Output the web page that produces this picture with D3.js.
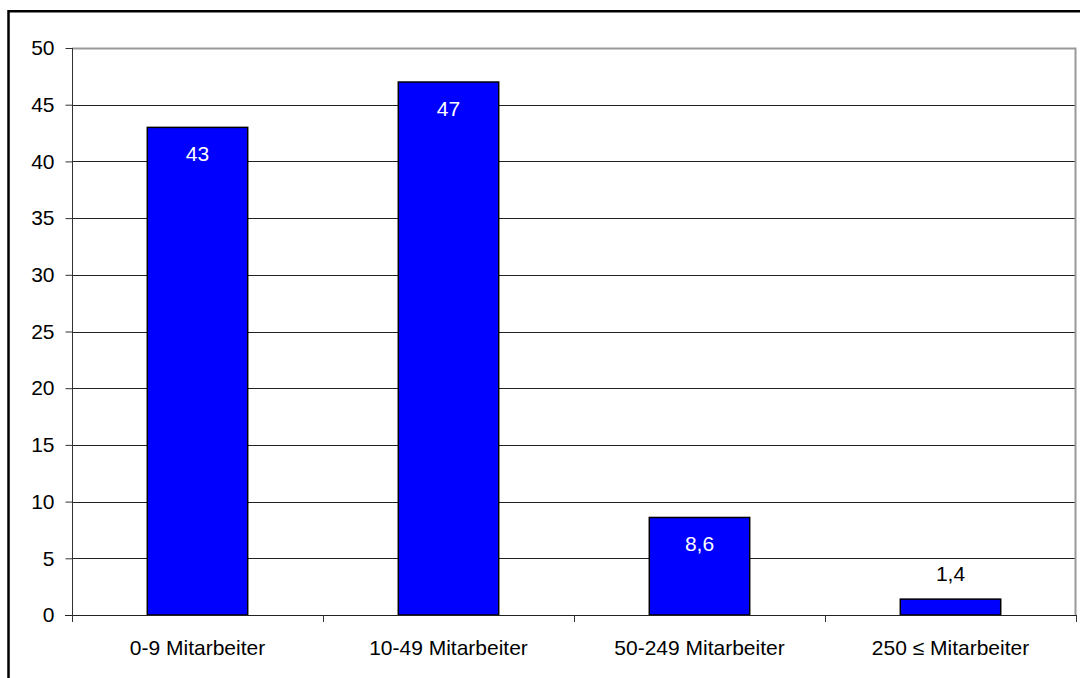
<!DOCTYPE html>
<html><head><meta charset="utf-8">
<script src="https://cdn.jsdelivr.net/npm/d3@7"></script>
<style>html,body{margin:0;padding:0;background:#fff;}svg{display:block;font-family:"Liberation Sans",Arial,sans-serif;}</style>
</head><body>
<script>
const categories = ["0-9 Mitarbeiter", "10-49 Mitarbeiter", "50-249 Mitarbeiter", "250 ≤ Mitarbeiter"];
const values = [43, 47, 8.6, 1.4];
const valueLabels = ["43", "47", "8,6", "1,4"];
const yTicks = [0, 5, 10, 15, 20, 25, 30, 35, 40, 45, 50];

(function () {
const W = 1080, H = 678;
const pL = 72, pR = 1076, pT = 48, pB = 615;
const fs = 21;

const svg = d3.select("body").append("svg").attr("width", W).attr("height", H);

// outer border
svg.append("rect").attr("x", 8.5).attr("y", 11.25).attr("width", W + 20).attr("height", H + 20)
  .attr("fill", "none").attr("stroke", "#000").attr("stroke-width", 2.5);

const x = d3.scaleBand().domain(categories).range([pL, pR]).paddingInner(0).paddingOuter(0);
const y = d3.scaleLinear().domain([0, 50]).range([pB, pT]);

// gridlines
svg.append("g").selectAll("line").data(yTicks.filter(t => t > 0 && t < 50)).join("line")
  .attr("x1", pL).attr("x2", pR)
  .attr("y1", d => Math.round(y(d)) + 0.5).attr("y2", d => Math.round(y(d)) + 0.5)
  .attr("stroke", "#222").attr("stroke-width", 1);

// plot border (top & right gray)
svg.append("path")
  .attr("d", `M${pL},${Math.round(y(50)) + 0.5}H${pR - 0.5}V${pB}`)
  .attr("fill", "none").attr("stroke", "#999").attr("stroke-width", 2);

// bars
const bw = x.bandwidth() * 0.4;
svg.append("g").selectAll("rect").data(values).join("rect")
  .attr("x", (d, i) => x(categories[i]) + (x.bandwidth() - bw) / 2)
  .attr("y", d => y(d))
  .attr("width", bw)
  .attr("height", d => y(0) - y(d))
  .attr("fill", "#0000FF").attr("stroke", "#000").attr("stroke-width", 1.5);

// y axis
const yAxis = svg.append("g").attr("transform", `translate(${pL + 0.5},0)`)
  .call(d3.axisLeft(y).tickValues(yTicks).tickSize(7).tickPadding(11).tickFormat(d3.format("d")));
yAxis.select(".domain").attr("stroke", "#333").attr("d", `M0,${pT}V${pB + 7}`);
yAxis.selectAll(".tick line").attr("stroke", "#333");
yAxis.selectAll("text").attr("font-size", fs).attr("fill", "#000").attr("font-family", "Liberation Sans, Arial, sans-serif");

// x axis
svg.append("line").attr("x1", pL - 7).attr("x2", pR).attr("y1", pB + 0.5).attr("y2", pB + 0.5)
  .attr("stroke", "#222").attr("stroke-width", 1.2);
const bounds = categories.map(c => x(c)).concat([pR]);
svg.append("g").selectAll("line").data(bounds).join("line")
  .attr("x1", d => Math.round(d) + 0.5).attr("x2", d => Math.round(d) + 0.5)
  .attr("y1", pB).attr("y2", pB + 7).attr("stroke", "#333");
svg.append("g").selectAll("text").data(categories).join("text")
  .attr("x", d => x(d) + x.bandwidth() / 2).attr("y", 655)
  .attr("text-anchor", "middle").attr("font-size", fs).attr("fill", "#000").text(d => d);

// value labels
svg.append("g").selectAll("text").data(values).join("text")
  .attr("x", (d, i) => x(categories[i]) + x.bandwidth() / 2)
  .attr("y", d => (y(0) - y(d) > 40) ? y(d) + 34 : y(d) - 18)
  .attr("text-anchor", "middle").attr("font-size", fs)
  .attr("fill", d => (y(0) - y(d) > 40) ? "#fff" : "#000")
  .text((d, i) => valueLabels[i]);
})();
</script>
</body></html>
